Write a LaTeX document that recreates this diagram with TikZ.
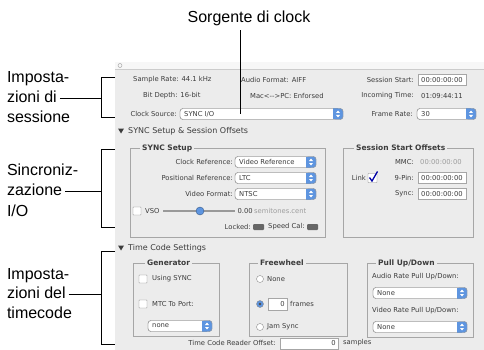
\documentclass[tikz,border=0pt]{standalone}
\usepackage{fontspec}
\setmainfont{Liberation Sans}
\newfontfamily\uifont{DejaVu Sans}
\definecolor{uibg}{HTML}{ECECEC}
\definecolor{uitext}{HTML}{3C3C3C}
\definecolor{uiline}{HTML}{A6A6A6}
\definecolor{uigray}{HTML}{9C9C9C}
\definecolor{popblue}{HTML}{5E95E0}
% popup menu: name, left, right, y, text
\newcommand{\uipopup}[5]{%
	\draw[popup] (#2,#4-5.5) rectangle (#3,#4+5.5);
	\fill[popblue,rounded corners=2.5pt] (#3-10,#4-5.5) rectangle (#3,#4+5.5);
	\fill[popblue] (#3-10,#4-5.5) rectangle (#3-5,#4+5.5);
	\fill[white] (#3-7,#4-1) -- (#3-3,#4-1) -- (#3-5,#4-3.5) -- cycle;
	\fill[white] (#3-7,#4+1) -- (#3-3,#4+1) -- (#3-5,#4+3.5) -- cycle;
	\draw[popup,fill=none] (#2,#4-5.5) rectangle (#3,#4+5.5);
	\node[ui,anchor=west] (#1) at (#2+4,#4) {#5};}
% text field: name, left, right, y, text
\newcommand{\uifield}[5]{%
	\draw[fieldbox] (#2,#4-5.5) rectangle (#3,#4+5.5);
	\node[ui,anchor=west] (#1) at (#2+3,#4) {#5};}

\begin{document}
\begin{tikzpicture}[x=1pt,y=-1pt,
	lead/.style={line width=0.8pt},
	callout/.style={font=\fontsize{16}{19}\selectfont, inner sep=0pt, outer xsep=3pt, text height=12pt, text depth=3.5pt, anchor=base west},
	ui/.style={font=\uifont\fontsize{6.8}{8}\selectfont, text=uitext, inner sep=0pt},
	uihead/.style={font=\uifont\fontsize{8}{9}\selectfont, text=uitext, inner sep=0pt, anchor=west},
	grptitle/.style={font=\uifont\bfseries\fontsize{7.5}{9}\selectfont, text=uitext, fill=uibg, inner xsep=2pt, inner ysep=0pt, anchor=west},
	grp/.style={draw=uiline},
	popup/.style={draw=black!40, fill=white, rounded corners=3pt},
	fieldbox/.style={draw=black!35, fill=white},
	chk/.style={draw=black!45, fill=white, rounded corners=0.5pt},
	radio/.style={draw=black!45, fill=white}]
	
	\useasboundingbox (0,0) rectangle (484,350);
	
	% window
	\fill[uibg] (115,62) rectangle (484,350);
	\fill[uibg!40!white] (115,62) rectangle (484,69);
	\draw[black!20] (115,69) -- (484,69);
	\draw[black!40] (120,65.5) circle (2);
	
	% session
	\node[ui,anchor=west] (srate) at (133,80) {Sample Rate: 44.1 kHz};
	\node[ui,anchor=west] (afmt) at (241,80) {Audio Format: AIFF};
	\node[ui,anchor=east] (sstartl) at (414,80) {Session Start:};
	\uifield{sstart}{418}{466}{80}{00:00:00:00}
	\node[ui,anchor=west] (bdepth) at (143,96) {Bit Depth: 16-bit};
	\node[ui,anchor=west] (macpc) at (250,96) {Mac<-{}->PC: Enforsed};
	\node[ui,anchor=east] (intimel) at (414,96) {Incoming Time:};
	\node[ui,anchor=west] (intime) at (421,96) {01:09:44:11};
	\node[ui,anchor=east] (csrcl) at (177,114) {Clock Source:};
	\uipopup{csrc}{180}{343}{114}{SYNC I/O}
	\node[ui,anchor=east] (fratel) at (413,114) {Frame Rate:};
	\uipopup{frate}{417}{476}{114}{30}
	
	% sync setup
	\fill[uitext] (118,128.5) -- (124,128.5) -- (121,133.5) -- cycle;
	\node[uihead] (synchd) at (128,131) {SYNC Setup \& Session Offsets};
	
	\draw[grp] (130,148) rectangle (325,237);
	\node[grptitle] (syncgrp) at (140,148) {SYNC Setup};
	\node[ui,anchor=east] (clkrefl) at (233,162) {Clock Reference:};
	\uipopup{clkref}{235}{316}{162}{Video Reference}
	\node[ui,anchor=east] (posrefl) at (233,178) {Positional Reference:};
	\uipopup{posref}{235}{316}{178}{LTC}
	\node[ui,anchor=east] (vfmtl) at (233,194) {Video Format:};
	\uipopup{vfmt}{235}{316}{194}{NTSC}
	\draw[chk] (133,207) rectangle (141,215);
	\node[ui,anchor=west] (vso) at (145,211) {VSO};
	\draw[line width=1.2pt,black!40] (163,211) -- (235,211);
	\draw[fill=popblue,draw=popblue!60!black] (200,211) circle (4);
	\node[ui,anchor=east] (vsoval) at (253,211) {0.00};
	\node[ui,anchor=west,text=uigray] (vsounit) at (254,211) {semitones.cent};
	\node[ui,anchor=east] (locked) at (251,227) {Locked:};
	\fill[black!60,rounded corners=1pt] (253,224) rectangle (264,230);
	\node[ui,anchor=west] (spcal) at (268,227) {Speed Cal:};
	\fill[black!60,rounded corners=1pt] (307,224) rectangle (318,230);
	
	\draw[grp] (343,148) rectangle (473,237);
	\node[grptitle] (offgrp) at (354,148) {Session Start Offsets};
	\node[ui,anchor=east] (mmcl) at (414,162) {MMC:};
	\node[ui,anchor=west,text=uigray] (mmc) at (420,162) {00:00:00:00};
	\node[ui,anchor=east] (link) at (366,178) {Link};
	\draw[chk] (368,173.5) rectangle (377,182.5);
	\draw[line width=1.3pt,blue!65!black] (369.5,177.5) -- (372,181) -- (377.5,171.5);
	\node[ui,anchor=east] (pinl) at (414,178) {9-Pin:};
	\uifield{pin}{418}{466}{178}{00:00:00:00}
	\node[ui,anchor=east] (syncl) at (414,194) {Sync:};
	\uifield{syncoff}{418}{466}{194}{00:00:00:00}
	
	% time code
	\fill[uitext] (118,245.5) -- (124,245.5) -- (121,250.5) -- cycle;
	\node[uihead] (tchd) at (128,248) {Time Code Settings};
	
	\draw[grp] (133,263) rectangle (219,336);
	\node[grptitle] (gengrp) at (145,263) {Generator};
	\draw[chk] (139,275) rectangle (147,283);
	\node[ui,anchor=west] (usesync) at (152,279) {Using SYNC};
	\draw[chk] (139,300) rectangle (147,308);
	\node[ui,anchor=west] (mtc) at (152,304) {MTC To Port:};
	\uipopup{mtcport}{148}{212}{326}{none}
	
	\draw[grp] (249,263) rectangle (347,336);
	\node[grptitle] (fwgrp) at (258,263) {Freewheel};
	\draw[radio] (260,279) circle (3.5);
	\node[ui,anchor=west] (fwnone) at (267,279) {None};
	\draw[radio,fill=popblue] (260,304) circle (3.5);
	\fill[black!70] (260,304) circle (1.3);
	\draw[fieldbox] (268,298) rectangle (287,310);
	\node[ui,anchor=east] (fwnum) at (285,304) {0};
	\node[ui,anchor=west] (fwfr) at (290,304) {frames};
	\draw[radio] (260,327) circle (3.5);
	\node[ui,anchor=west] (jam) at (267,327) {Jam Sync};
	
	\draw[grp] (367,263) rectangle (473,337);
	\node[grptitle] (pullgrp) at (376,263) {Pull Up/Down};
	\node[ui,anchor=west] (audiol) at (372,277) {Audio Rate Pull Up/Down:};
	\uipopup{audiopull}{373}{467}{293}{None}
	\node[ui,anchor=west] (videol) at (372,311) {Video Rate Pull Up/Down:};
	\uipopup{videopull}{373}{467}{327}{None}
	
	\node[ui,anchor=east] (tcrol) at (276,343) {Time Code Reader Offset:};
	\draw[fieldbox] (280,338) rectangle (338,349);
	\node[ui,anchor=east] (tcro) at (336,343) {0};
	\node[ui,anchor=west] (tcrou) at (343,343) {samples};
	
	% callouts
	\node[callout,anchor=base,outer ysep=4pt] (clk) at (249,23) {Sorgente di clock};
	\coordinate (clkpt) at (240,114);
	\draw[lead] (clk.south -| clkpt) -- (clkpt);
	
	\node[callout] (sess1) at (4,83) {Imposta-};
	\node[callout] (sess2) at (4,102.5) {zioni di};
	\node[callout] (sess3) at (4,122) {sessione};
	\coordinate (sessbr) at (101,98);
	\draw[lead] (115,77) -- (101,77) -- (101,117) -- (115,117);
	\draw[lead] (sess2.east) -- (sess2.east -| sessbr);
	
	\node[callout] (sync1) at (4,175) {Sincroniz-};
	\node[callout] (sync2) at (4,195.5) {zazione};
	\node[callout] (sync3) at (4,216) {I/O};
	\coordinate (syncbr) at (101,191);
	\draw[lead] (115,149) -- (101,149) -- (101,227) -- (115,227);
	\draw[lead] (sync2.east) -- (sync2.east -| syncbr);
	
	\node[callout] (tc1) at (4,279) {Imposta-};
	\node[callout] (tc2) at (4,298.5) {zioni del};
	\node[callout] (tc3) at (4,318) {timecode};
	\coordinate (tcbr) at (101,294);
	\draw[lead] (115,251) -- (101,251) -- (101,344) -- (115,344);
	\draw[lead] (tc2.east) -- (tc2.east -| tcbr);
	
%	\draw[lead] (sess3.east) -- (sess3.east -| sessbr);
	
\end{tikzpicture}
\end{document}
